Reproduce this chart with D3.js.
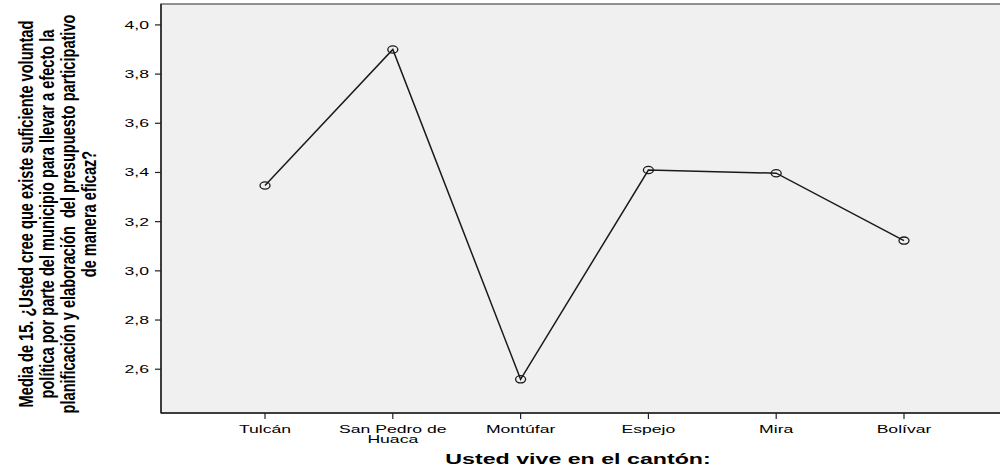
<!DOCTYPE html>
<html>
<head>
<meta charset="utf-8">
<script src="https://cdn.jsdelivr.net/npm/d3@7/dist/d3.min.js"></script>
<style>
  html, body { margin: 0; padding: 0; background: #ffffff; }
  svg { display: block; }
  text { font-family: "Liberation Sans", Arial, sans-serif; fill: #000; }
</style>
</head>
<body>
<svg id="chart" width="1000" height="471"></svg>
<script>
// ---- data ----
const categories = ["Tulcán", "San Pedro de Huaca", "Montúfar", "Espejo", "Mira", "Bolívar"];
const categoryLines = [["Tulcán"], ["San Pedro de", "Huaca"], ["Montúfar"], ["Espejo"], ["Mira"], ["Bolívar"]];
const means = [3.347, 3.900, 2.559, 3.410, 3.397, 3.123];
const yTicks = [2.6, 2.8, 3.0, 3.2, 3.4, 3.6, 3.8, 4.0];
const yTitleLines = [
  "Media de 15. ¿Usted cree que existe suficiente voluntad",
  "política por parte del municipio para llevar a efecto la",
  "planificación y elaboración  del presupuesto participativo",
  "de manera eficaz?"
];
const xTitle = "Usted vive en el cantón:";

// ---- layout ----
const svg = d3.select("#chart");
const SX = 1.6; // horizontal stretch of the original rendering
const plot = { left: 161, top: 4, right: 1010, bottom: 413 };

const x = d3.scalePoint().domain(categories).range([265, 904]);
const y = d3.scaleLinear().domain([2.422, 4.085]).range([plot.bottom, plot.top]);

// plot background
svg.append("rect")
  .attr("x", plot.left).attr("y", plot.top)
  .attr("width", plot.right - plot.left).attr("height", plot.bottom - plot.top)
  .attr("fill", "#f0f0f0")
  .attr("stroke", "#6e6e6e").attr("stroke-width", 1.5);

// y axis
const yAxis = svg.append("g").attr("transform", `translate(${plot.left},0)`);
yAxis.append("line").attr("x1", 0).attr("x2", 0).attr("y1", plot.top).attr("y2", plot.bottom)
  .attr("stroke", "#222").attr("stroke-width", 1.5);
const yt = yAxis.selectAll("g.yt").data(yTicks).enter().append("g")
  .attr("transform", d => `translate(0,${y(d)})`);
yt.append("line").attr("x1", -6).attr("x2", 0).attr("stroke", "#222").attr("stroke-width", 1.2);
yt.append("text")
  .attr("transform", `translate(-12,4) scale(${SX},1)`)
  .attr("text-anchor", "end")
  .style("font-size", "11px")
  .text(d => d3.format(".1f")(d).replace(".", ","));

// x axis
const xAxis = svg.append("g").attr("transform", `translate(0,${plot.bottom})`);
xAxis.append("line").attr("x1", plot.left).attr("x2", plot.right).attr("y1", 0).attr("y2", 0)
  .attr("stroke", "#222").attr("stroke-width", 1.5);
const xt = xAxis.selectAll("g.xt").data(categories).enter().append("g")
  .attr("transform", d => `translate(${x(d)},0)`);
xt.append("line").attr("y1", 0).attr("y2", 6).attr("stroke", "#222").attr("stroke-width", 1.2);
xt.each(function(d, i) {
  const g = d3.select(this);
  categoryLines[i].forEach((ln, j) => {
    g.append("text")
      .attr("transform", `translate(0,${20 + j * 10}) scale(${SX},1)`)
      .attr("text-anchor", "middle")
      .style("font-size", "11px")
      .text(ln);
  });
});

// line
const line = d3.line().x((d, i) => x(categories[i])).y(d => y(d));
svg.append("path").datum(means)
  .attr("d", line).attr("fill", "none")
  .attr("stroke", "#1a1a1a").attr("stroke-width", 1.5);

// markers
svg.selectAll("ellipse.pt").data(means).enter().append("ellipse")
  .attr("cx", (d, i) => x(categories[i])).attr("cy", d => y(d))
  .attr("rx", 5).attr("ry", 3.6)
  .attr("fill", "none").attr("stroke", "#1a1a1a").attr("stroke-width", 1.3);

// x title
svg.append("text")
  .attr("transform", `translate(578,464) scale(${SX},1)`)
  .attr("text-anchor", "middle")
  .style("font-size", "14.5px").style("font-weight", "bold")
  .text(xTitle);

// y title (rotated, stretched horizontally on screen)
const SXT = 1.4;
const yTitle = svg.append("g").attr("transform", `translate(0,214) scale(${SXT},1)`);
yTitleLines.forEach((ln, i) => {
  yTitle.append("text")
    .attr("transform", `translate(${(33 + i * 21) / SXT},0) rotate(-90)`)
    .attr("text-anchor", "middle")
    .style("font-size", "14.6px").style("font-weight", "bold")
    .style("white-space", "pre")
    .text(ln);
});
</script>
</body>
</html>
